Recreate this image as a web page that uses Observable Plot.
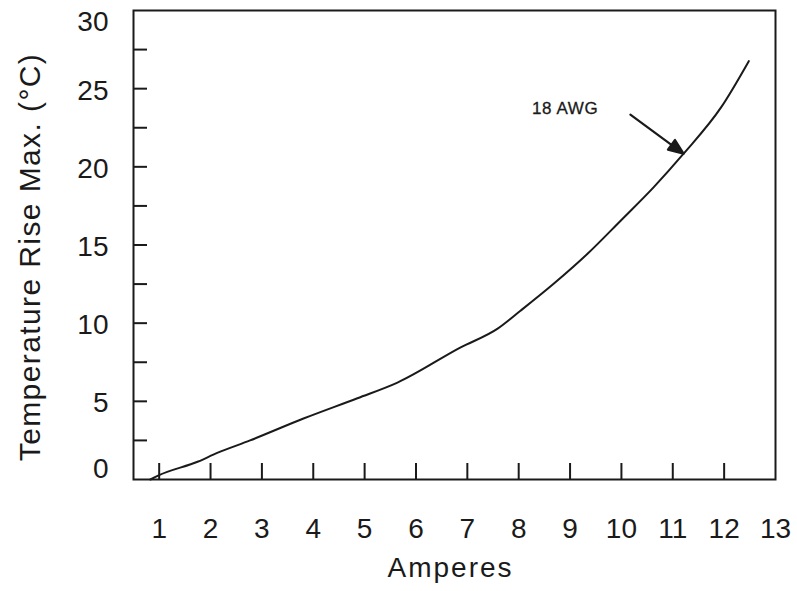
<!DOCTYPE html>
<html>
<head>
<meta charset="utf-8">
<script src="https://cdn.jsdelivr.net/npm/d3@7"></script>
<script src="https://cdn.jsdelivr.net/npm/@observablehq/plot@0.6"></script>
<style>
  html, body { margin: 0; padding: 0; background: #fff; }
  .ylab text { letter-spacing: 1.4px; }
  .xlab text { letter-spacing: 2px; }
  .annot text { letter-spacing: 0.6px; }
</style>
</head>
<body>
<div id="chart"></div>
<script>
// Curve data
const amps = [0.83, 0.98, 1.76, 2.13, 2.77, 3.81, 4.86, 5.64, 6.87, 7.59, 8.04, 8.68, 9.34, 9.99, 10.63, 11.21, 11.94, 12.48];
const rise = [0, 0.25, 1.15, 1.7, 2.5, 3.9, 5.2, 6.2, 8.45, 9.65, 10.81, 12.52, 14.44, 16.57, 18.7, 20.84, 23.8, 26.76];

// Axis ticks
const xTickLabels = [1, 2, 3, 4, 5, 6, 7, 8, 9, 10, 11, 12, 13];
const xTickMarks = [1, 2, 3, 4, 5, 6, 7, 8, 9, 10, 11, 12];
const yTickLabelsMid = [5, 10, 15, 20, 25];
const yTickLabelTop = [30];
const yTickLabelBottom = [0];
const yTickMarks = [2.5, 5, 7.5, 10, 12.5, 15, 17.5, 20, 22.5, 25, 27.5];

// Annotation
const annotLabel = ["18 AWG"];
const annotTextAt = [{x: 8.26, y: 23.7}];
const annotArrowTip = [{x: 11.21, y: 20.84}];

const curve = amps.map((a, i) => ({a, r: rise[i]}));

const W = 797, H = 591;
const mL = 133, mR = 22, mT = 10, mB = 112;
const pw = W - mL - mR, ph = H - mT - mB;
const ink = "#1a1a1a";

// Custom arrow shape: shaft plus filled triangular head
const arrowShape = {
  draw(context, l) {
    const h = 15, w = 6;
    context.moveTo(0, 0);
    context.lineTo(0, -l + h);
    context.moveTo(0, -l);
    context.lineTo(-w, -l + h);
    context.lineTo(w, -l + h);
    context.closePath();
  }
};

const chart = Plot.plot({
  width: W,
  height: H,
  marginLeft: mL,
  marginRight: mR,
  marginTop: mT,
  marginBottom: mB,
  style: {fontFamily: "'Liberation Sans', Arial, sans-serif", background: "#fff", color: ink},
  x: {domain: [0.5, 13]},
  y: {domain: [0, 30]},
  marks: [
    Plot.axisX(xTickLabels, {tickSize: 0, tickPadding: 39, fontSize: 28, label: null, fill: ink}),
    Plot.axisY(yTickLabelsMid, {tickSize: 0, tickPadding: 25, fontSize: 28, label: null, fill: ink, dy: 2}),
    Plot.axisY(yTickLabelTop, {tickSize: 0, tickPadding: 25, fontSize: 28, label: null, fill: ink, dy: 12}),
    Plot.axisY(yTickLabelBottom, {tickSize: 0, tickPadding: 25, fontSize: 28, label: null, fill: ink, dy: -10}),
    Plot.tickX(xTickMarks, {x: d => d, insetTop: ph - 16, stroke: ink, strokeWidth: 2}),
    Plot.tickY(yTickMarks, {y: d => d, insetRight: pw - 14, stroke: ink, strokeWidth: 2}),
    Plot.frame({stroke: ink, strokeWidth: 2}),
    Plot.line(curve, {x: "a", y: "r", curve: "monotone-x", stroke: ink, strokeWidth: 2}),
    Plot.text(annotLabel, {x: () => annotTextAt[0].x, y: () => annotTextAt[0].y, text: d => d, fontSize: 17, textAnchor: "start", fill: ink, stroke: ink, strokeWidth: 0.3, className: "annot"}),
    Plot.vector(annotArrowTip, {x: "x", y: "y", anchor: "end", length: 66, rotate: 126.3, shape: arrowShape, stroke: ink, fill: ink, strokeWidth: 2.2}),
    Plot.text(["Amperes"], {frameAnchor: "bottom", dx: -4, dy: 89, text: d => d, fontSize: 28, lineAnchor: "middle", fill: ink, className: "xlab"}),
    Plot.text(["Temperature Rise Max. (°C)"], {frameAnchor: "left", dx: -103, dy: 12, rotate: -90, text: d => d, fontSize: 30, lineAnchor: "middle", textAnchor: "middle", fill: ink, className: "ylab"})
  ]
});

document.getElementById("chart").appendChild(chart);
</script>
</body>
</html>
